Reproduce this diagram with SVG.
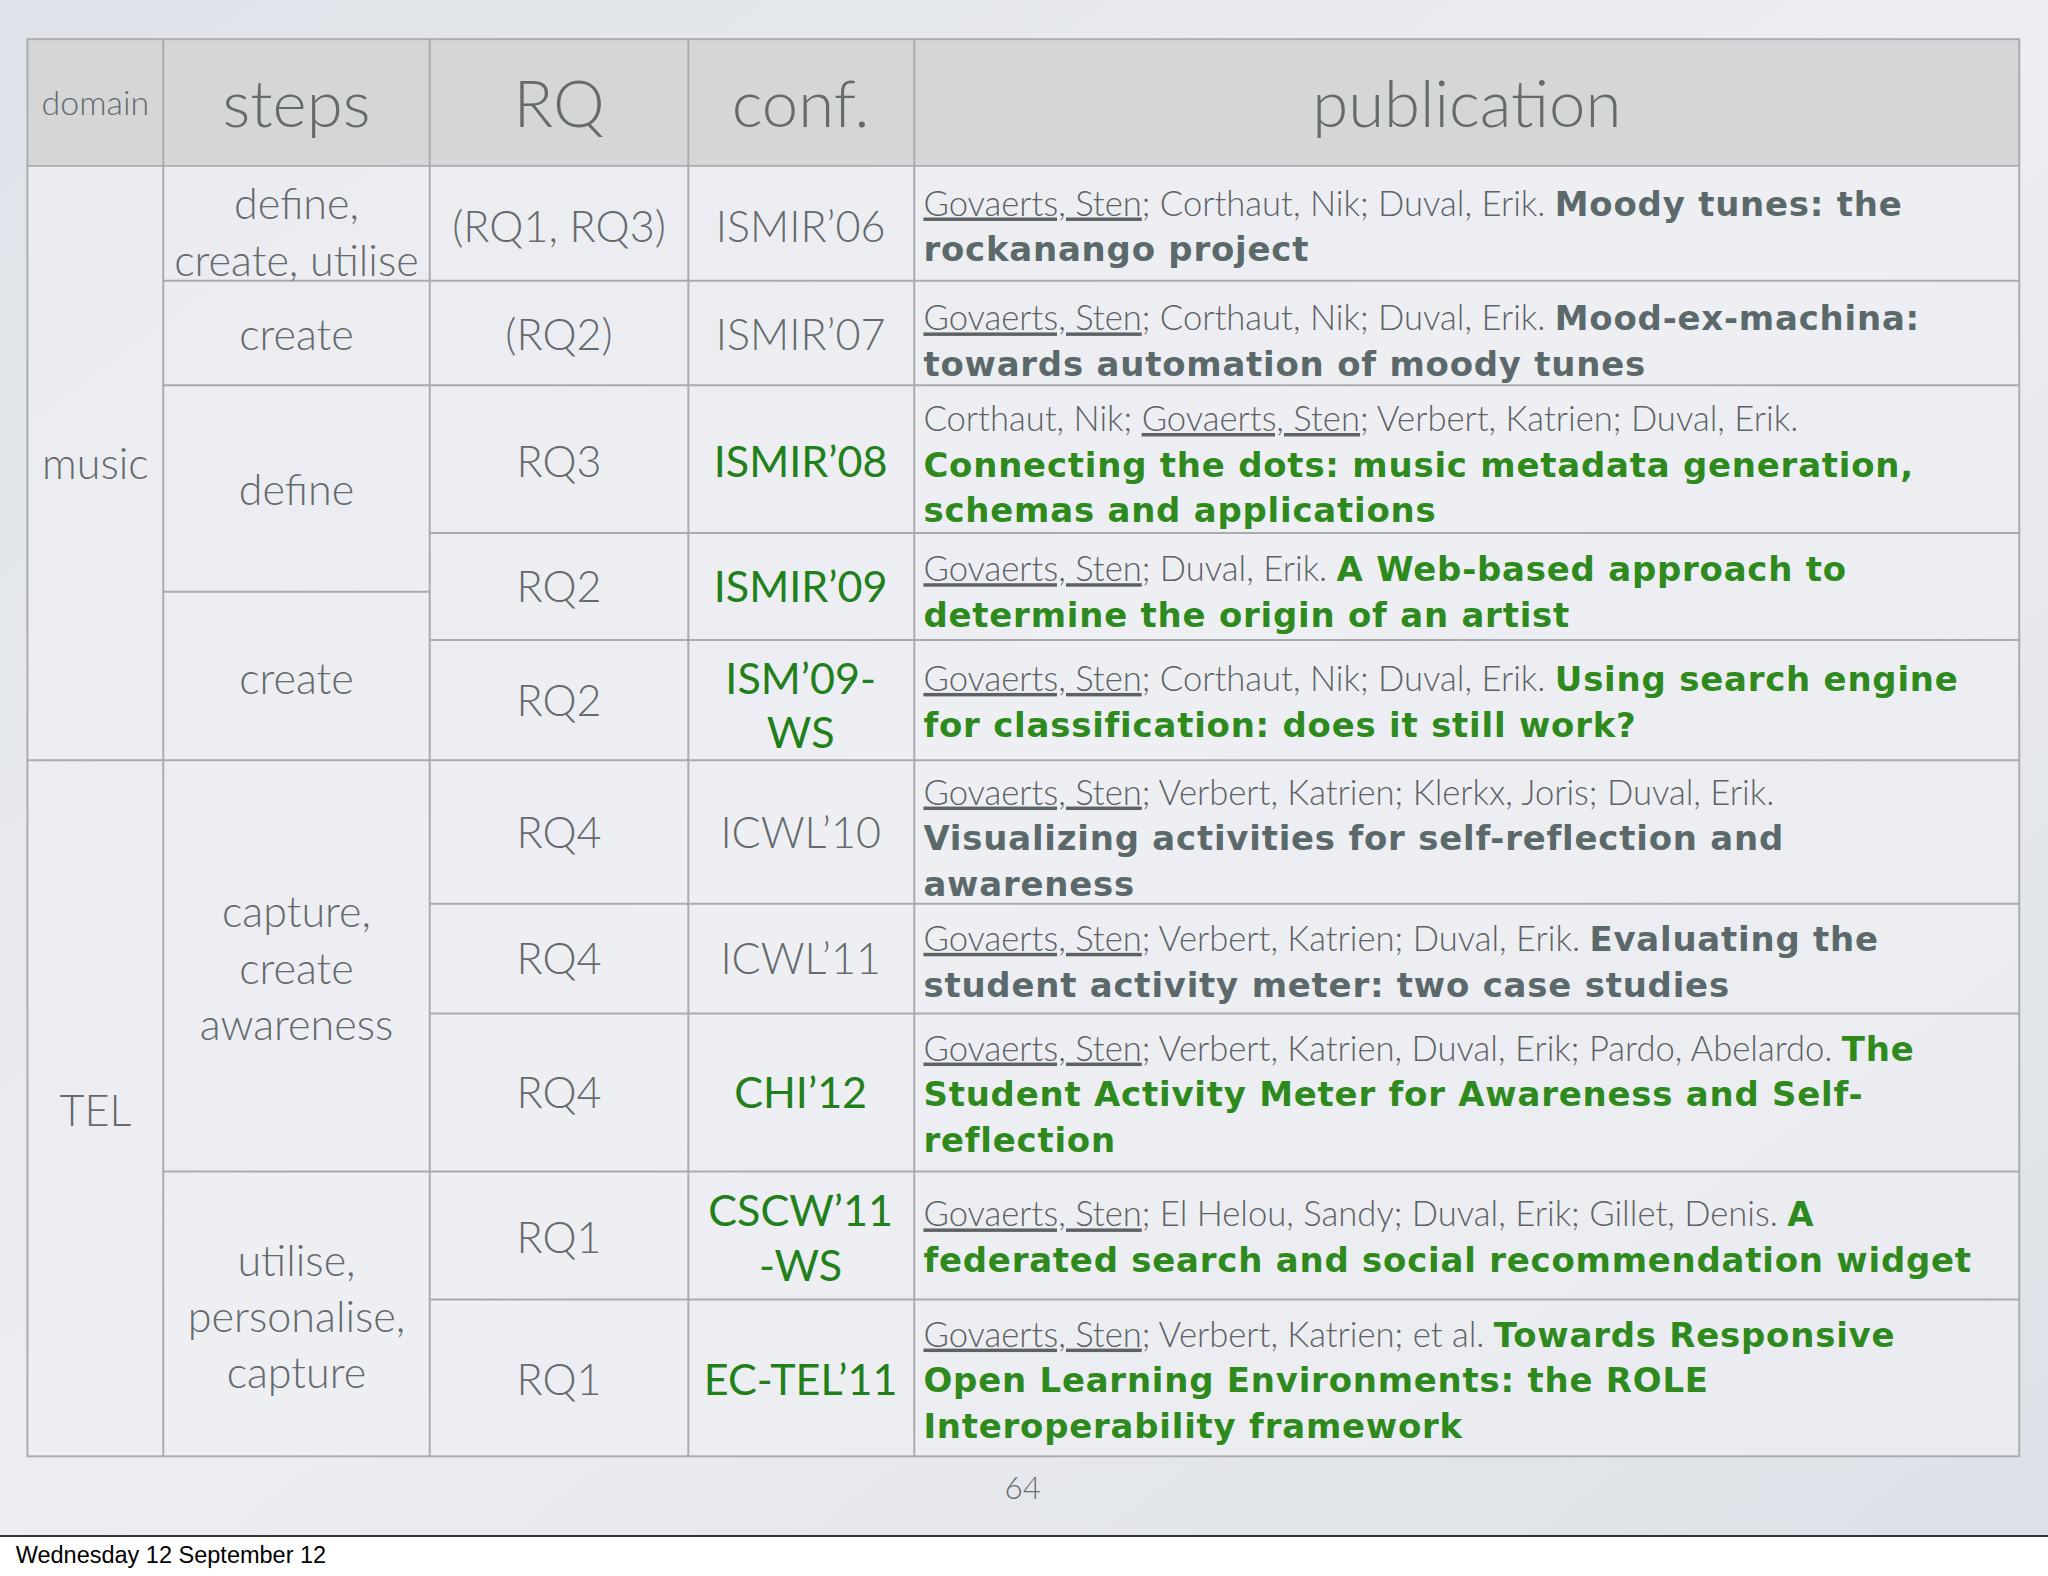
<svg xmlns="http://www.w3.org/2000/svg" width="2048" height="1576" viewBox="0 0 2048 1576">
<defs>
<linearGradient id="bg" x1="0" y1="0" x2="1" y2="1"><stop offset="0" stop-color="#dfe2e8"/><stop offset="0.5" stop-color="#eceef2"/><stop offset="1" stop-color="#dde0e6"/></linearGradient>
</defs>
<style>
.g{fill:none;stroke:#a9abae;stroke-width:1.5}
.c{font-family:Lato,"Open Sans",sans-serif;font-weight:300;fill:#656a6d;text-anchor:middle}
.cg{fill:#22801a;font-weight:400}
.p{font-family:Lato,"Open Sans",sans-serif;font-weight:300;font-size:26.5px;fill:#5d6265}
.u{text-decoration:underline}
.b{font-family:"DejaVu Sans",Verdana,sans-serif;font-weight:bold;font-size:26px;letter-spacing:0.6px;fill:#5c696b}
.gr{font-family:"DejaVu Sans",Verdana,sans-serif;font-weight:bold;font-size:26px;letter-spacing:0.6px;fill:#2e8a1d}
</style>
<rect width="2048" height="1576" fill="#fff"/>
<g transform="scale(1.30612)">
<rect x="0" y="0" width="1568" height="1176" fill="url(#bg)"/>
<line x1="0" y1="1176" x2="1568" y2="1176" stroke="#333" stroke-width="1.5"/>
<text x="12" y="1197" font-family="Liberation Sans,Arial,sans-serif" font-size="18" fill="#000">Wednesday 12 September 12</text>
<g id="table">
<rect x="21" y="30" width="1525" height="97" fill="#d5d6d8"/>
<rect x="21" y="127" width="1525" height="988" fill="#eef0f3" opacity="0.7"/>
<g class="g">
<rect x="21" y="30" width="1525" height="1085"/>
<line x1="125" y1="30" x2="125" y2="1115"/><line x1="329" y1="30" x2="329" y2="1115"/>
<line x1="527" y1="30" x2="527" y2="1115"/><line x1="700" y1="30" x2="700" y2="1115"/>
<line x1="21" y1="127" x2="1546" y2="127"/>
<line x1="125" y1="215" x2="1546" y2="215"/><line x1="125" y1="295" x2="1546" y2="295"/>
<line x1="329" y1="408" x2="1546" y2="408"/><line x1="125" y1="453" x2="329" y2="453"/>
<line x1="329" y1="490" x2="1546" y2="490"/><line x1="21" y1="582" x2="1546" y2="582"/>
<line x1="329" y1="692" x2="1546" y2="692"/><line x1="329" y1="776" x2="1546" y2="776"/>
<line x1="125" y1="897" x2="1546" y2="897"/><line x1="329" y1="995" x2="1546" y2="995"/>
</g>
</g>
<g id="header" class="c">
<text x="73" y="88" font-size="26">domain</text>
<text x="227" y="97" font-size="50">steps</text>
<text x="428" y="97" font-size="50">RQ</text>
<text x="613" y="97" font-size="50">conf.</text>
<text x="1123" y="97" font-size="50">publication</text>
</g>
<g id="cells" class="c" font-size="33">
<text x="73" y="367">music</text>
<text x="73" y="862">TEL</text>
<text x="227" y="168">define,</text><text x="227" y="211">create, utilise</text>
<text x="227" y="268">create</text>
<text x="227" y="387">define</text>
<text x="227" y="531">create</text>
<text x="227" y="710">capture,</text><text x="227" y="753">create</text><text x="227" y="796">awareness</text>
<text x="227" y="977">utilise,</text><text x="227" y="1020">personalise,</text><text x="227" y="1063">capture</text>
<text x="428" y="185">(RQ1, RQ3)</text>
<text x="428" y="268">(RQ2)</text>
<text x="428" y="365">RQ3</text>
<text x="428" y="461">RQ2</text>
<text x="428" y="548">RQ2</text>
<text x="428" y="649">RQ4</text>
<text x="428" y="746">RQ4</text>
<text x="428" y="848">RQ4</text>
<text x="428" y="959">RQ1</text>
<text x="428" y="1068">RQ1</text>
<text x="613" y="185">ISMIR’06</text>
<text x="613" y="268">ISMIR’07</text>
<text x="613" y="365" class="cg">ISMIR’08</text>
<text x="613" y="461" class="cg">ISMIR’09</text>
<text x="613" y="531" class="cg">ISM’09-</text><text x="613" y="573" class="cg">WS</text>
<text x="613" y="649">ICWL’10</text>
<text x="613" y="746">ICWL’11</text>
<text x="613" y="848" class="cg">CHI’12</text>
<text x="613" y="939" class="cg">CSCW’11</text><text x="613" y="981" class="cg">-WS</text>
<text x="613" y="1068" class="cg">EC-TEL’11</text>
<text x="783" y="1148" font-size="24">64</text>
</g>
<g id="publications">
<text x="707" y="165" class="p"><tspan class="u">Govaerts, Sten</tspan>; Corthaut, Nik; Duval, Erik. <tspan class="b">Moody tunes: the</tspan></text>
<text x="707" y="200" class="b">rockanango project</text>
<text x="707" y="253" class="p"><tspan class="u">Govaerts, Sten</tspan>; Corthaut, Nik; Duval, Erik. <tspan class="b">Mood-ex-machina:</tspan></text>
<text x="707" y="288" class="b">towards automation of moody tunes</text>
<text x="707" y="330" class="p">Corthaut, Nik; <tspan class="u">Govaerts, Sten</tspan>; Verbert, Katrien; Duval, Erik.</text>
<text x="707" y="365" class="gr">Connecting the dots: music metadata generation,</text>
<text x="707" y="400" class="gr">schemas and applications</text>
<text x="707" y="445" class="p"><tspan class="u">Govaerts, Sten</tspan>; Duval, Erik. <tspan class="gr">A Web-based approach to</tspan></text>
<text x="707" y="480" class="gr">determine the origin of an artist</text>
<text x="707" y="529" class="p"><tspan class="u">Govaerts, Sten</tspan>; Corthaut, Nik; Duval, Erik. <tspan class="gr">Using search engine</tspan></text>
<text x="707" y="564" class="gr">for classification: does it still work?</text>
<text x="707" y="616" class="p"><tspan class="u">Govaerts, Sten</tspan>; Verbert, Katrien; Klerkx, Joris; Duval, Erik.</text>
<text x="707" y="651" class="b">Visualizing activities for self-reflection and</text>
<text x="707" y="686" class="b">awareness</text>
<text x="707" y="728" class="p"><tspan class="u">Govaerts, Sten</tspan>; Verbert, Katrien; Duval, Erik. <tspan class="b">Evaluating the</tspan></text>
<text x="707" y="763" class="b">student activity meter: two case studies</text>
<text x="707" y="812" class="p"><tspan class="u">Govaerts, Sten</tspan>; Verbert, Katrien, Duval, Erik; Pardo, Abelardo. <tspan class="gr">The</tspan></text>
<text x="707" y="847" class="gr">Student Activity Meter for Awareness and Self-</text>
<text x="707" y="882" class="gr">reflection</text>
<text x="707" y="939" class="p"><tspan class="u">Govaerts, Sten</tspan>; El Helou, Sandy; Duval, Erik; Gillet, Denis. <tspan class="gr">A</tspan></text>
<text x="707" y="974" class="gr">federated search and social recommendation widget</text>
<text x="707" y="1031" class="p"><tspan class="u">Govaerts, Sten</tspan>; Verbert, Katrien; et al. <tspan class="gr">Towards Responsive</tspan></text>
<text x="707" y="1066" class="gr">Open Learning Environments: the ROLE</text>
<text x="707" y="1101" class="gr">Interoperability framework</text>
</g>
</g>
</svg>
